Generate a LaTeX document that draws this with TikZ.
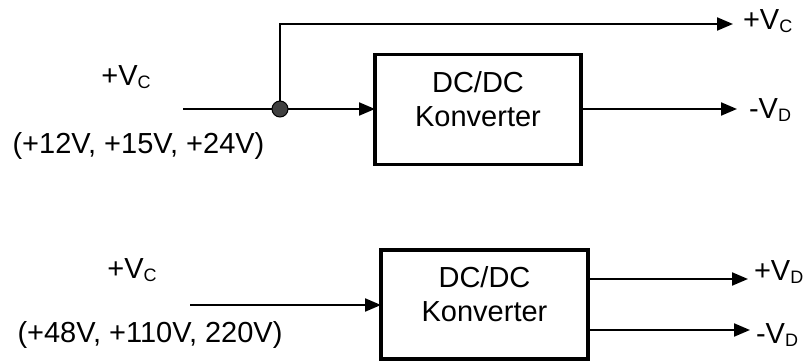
\documentclass[tikz,border=0pt]{standalone}
\usepackage{fontspec}
\setmainfont{Liberation Sans}
\usetikzlibrary{arrows.meta}
\newcommand\mysub[1]{\raisebox{-3pt}{\fontsize{18}{18}\selectfont #1}}
\tikzset{
  conn/.style={line width=2.2pt},
  arr/.style={conn, -{Triangle[length=16pt,width=13pt]}},
  convbox/.style={draw, line width=3.5pt, inner sep=0pt, outer sep=0pt},
  lbl/.style={inner sep=0pt, outer sep=0pt},
  junction/.style={circle, draw=black, line width=1pt, fill=black!75, minimum size=16pt, inner sep=0pt, outer sep=0pt}
}
\begin{document}
\begin{tikzpicture}[x=1pt, y=-1pt, font=\fontsize{29}{34}\selectfont]
\useasboundingbox (0,0) rectangle (803,361);
% top converter
\node[convbox, minimum width=206pt, minimum height=110pt] (b1) at (478,109.5) {};
\node[lbl, align=center] (t1) at (478,99.5) {DC/DC\\Konverter};
\coordinate (in1) at (183,109);
\coordinate (oc1) at (733,24);
\coordinate (od1) at (737,109);
\node[junction] (j) at (280,109) {};
\draw[conn] (in1) -- (j);
\draw[arr] (j) -- (b1.west |- j);
\draw[arr] (j) |- (oc1);
\draw[arr] (b1.east |- od1) -- (od1);
\node[lbl, anchor=base] (l1) at (126,85) {+V\mysub{C}};
\node[lbl, anchor=base] (r1) at (138.5,153) {(+12V, +15V, +24V)};
\node[lbl, anchor=base west] (lc1) at (743,30) {+V\mysub{C}};
\node[lbl, anchor=base west] (ld1) at (749,118) {-V\mysub{D}};
% bottom converter
\node[convbox, minimum width=207pt, minimum height=109pt] (b2) at (484.5,304.5) {};
\node[lbl, align=center] (t2) at (484.5,294.5) {DC/DC\\Konverter};
\coordinate (in2) at (190,305);
\coordinate (op2) at (748,279);
\coordinate (om2) at (750,330);
\draw[arr] (in2) -- (b2.west |- in2);
\draw[arr] (b2.east |- op2) -- (op2);
\draw[arr] (b2.east |- om2) -- (om2);
\node[lbl, anchor=base] (l2) at (132,278) {+V\mysub{C}};
\node[lbl, anchor=base] (r2) at (150,342) {(+48V, +110V, 220V)};
\node[lbl, anchor=base west] (lp2) at (754,280) {+V\mysub{D}};
\node[lbl, anchor=base west] (lm2) at (756,343) {-V\mysub{D}};
\end{tikzpicture}
\end{document}
